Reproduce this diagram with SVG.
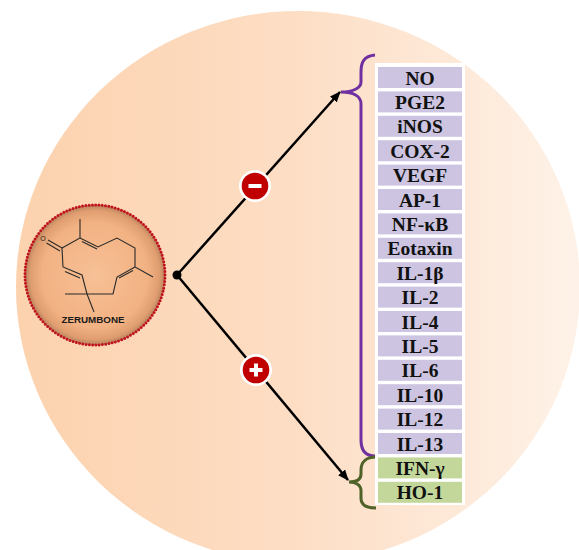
<svg xmlns="http://www.w3.org/2000/svg" width="579" height="550" viewBox="0 0 579 550">
<defs>
<linearGradient id="bg" x1="0" y1="0" x2="1" y2="0">
<stop offset="0" stop-color="#FCD2AE"/>
<stop offset="0.5" stop-color="#FDDEC5"/>
<stop offset="1" stop-color="#FEF2E8"/>
</linearGradient>
<radialGradient id="mol" cx="0.5" cy="0.5" r="0.5">
<stop offset="0" stop-color="#F7C096"/>
<stop offset="0.75" stop-color="#F2B283"/>
<stop offset="0.92" stop-color="#E09E70"/>
<stop offset="1" stop-color="#B7835E"/>
</radialGradient>
<marker id="ah" markerUnits="userSpaceOnUse" markerWidth="11" markerHeight="9" refX="10" refY="4.5" orient="auto">
<path d="M0,0 L11,4.5 L0,9 Z" fill="#000"/>
</marker>
<style>
.box-p{fill:#CCC4E0;}
.box-g{fill:#C4D79B;}
.lbl{font-family:"Liberation Serif","Times New Roman",serif;font-weight:bold;font-size:19.5px;fill:#111;text-anchor:middle;}
.bond{stroke:#2a2a2a;stroke-width:1.1;fill:none;}
.conn{stroke:#000;stroke-width:2.5;fill:none;}
</style>
</defs>
<ellipse id="background" cx="298" cy="287" rx="282" ry="276" fill="url(#bg)"/>

<g id="zerumbone">
<circle cx="95" cy="275" r="70" fill="url(#mol)" stroke="#C0141C" stroke-width="3" stroke-dasharray="0 3.3" stroke-linecap="round"/>
<g class="bond">
<path d="M62,248 L80,238 L80,219"/>
<path d="M80,238 L98,247 L117,238 L135,248 L135,267 L153,277"/>
<path d="M82,241.5 L97,249"/>
<path d="M135,267 L117,277 L113,294 L65,294"/>
<path d="M133,270.5 L119,278"/>
<path d="M87,294 L94,312"/>
<path d="M87,294 L82,275 L63,267 L62,248"/>
<path d="M80,278 L65,271.5"/>
<path d="M62,248 L48,240"/>
<path d="M60,251 L46.5,243"/>
</g>
<text x="43" y="241" font-family="Liberation Sans, Arial, sans-serif" font-size="7" fill="#222" text-anchor="middle">O</text>
<text x="93" y="323" font-family="Liberation Sans, Arial, sans-serif" font-size="9.8" font-weight="bold" fill="#1a1a1a" text-anchor="middle">ZERUMBONE</text>
</g>

<g id="connectors">
<line class="conn" x1="177" y1="275" x2="340" y2="92" marker-end="url(#ah)"/>
<line class="conn" x1="177" y1="275" x2="348" y2="480" marker-end="url(#ah)"/>
<circle cx="177" cy="275" r="4.5" fill="#000"/>
<path d="M375,55 C364,56 361,62 361,72 L361,82 C361,88 353,92 341,92 C353,92 361,96 361,104 L361,440 C361,450 365,456 375,456" fill="none" stroke="#7030A0" stroke-width="3"/>
<path d="M376,457 C366,457 361,462 361,470 L361,474 C361,480 356,482 349,482 C356,482 361,485 361,491 L361,498 C361,505 366,508 376,508" fill="none" stroke="#4F6228" stroke-width="3"/>
</g>

<g id="minus">
<circle cx="255" cy="186" r="16" fill="#fff"/>
<circle cx="255" cy="186" r="13.3" fill="#C00000"/>
<rect x="248.5" y="184" width="13" height="4" fill="#fff"/>
</g>
<g id="plus">
<circle cx="256" cy="370" r="16" fill="#fff"/>
<circle cx="256" cy="370" r="13.3" fill="#C00000"/>
<rect x="249.5" y="368" width="13" height="4" fill="#fff"/>
<rect x="254" y="363.5" width="4" height="13" fill="#fff"/>
</g>

<g id="list">
<rect x="375" y="63" width="90" height="442" fill="#fff"/>
<g id="n-NO"><rect class="box-p" x="378" y="67" width="84" height="21"/><text class="lbl" x="420" y="84.5">NO</text></g>
<g id="n-PGE2"><rect class="box-p" x="378" y="91.4" width="84" height="21"/><text class="lbl" x="420" y="108.9">PGE2</text></g>
<g id="n-iNOS"><rect class="box-p" x="378" y="115.8" width="84" height="21"/><text class="lbl" x="420" y="133.3">iNOS</text></g>
<g id="n-COX2"><rect class="box-p" x="378" y="140.2" width="84" height="21"/><text class="lbl" x="420" y="157.7">COX-2</text></g>
<g id="n-VEGF"><rect class="box-p" x="378" y="164.6" width="84" height="21"/><text class="lbl" x="420" y="182.1">VEGF</text></g>
<g id="n-AP1"><rect class="box-p" x="378" y="189" width="84" height="21"/><text class="lbl" x="420" y="206.5">AP-1</text></g>
<g id="n-NFkB"><rect class="box-p" x="378" y="213.4" width="84" height="21"/><text class="lbl" x="420" y="230.9">NF-κB</text></g>
<g id="n-Eotaxin"><rect class="box-p" x="378" y="237.8" width="84" height="21"/><text class="lbl" x="420" y="255.3">Eotaxin</text></g>
<g id="n-IL1b"><rect class="box-p" x="378" y="262.2" width="84" height="21"/><text class="lbl" x="420" y="279.7">IL-1β</text></g>
<g id="n-IL2"><rect class="box-p" x="378" y="286.6" width="84" height="21"/><text class="lbl" x="420" y="304.1">IL-2</text></g>
<g id="n-IL4"><rect class="box-p" x="378" y="311" width="84" height="21"/><text class="lbl" x="420" y="328.5">IL-4</text></g>
<g id="n-IL5"><rect class="box-p" x="378" y="335.4" width="84" height="21"/><text class="lbl" x="420" y="352.9">IL-5</text></g>
<g id="n-IL6"><rect class="box-p" x="378" y="359.8" width="84" height="21"/><text class="lbl" x="420" y="377.3">IL-6</text></g>
<g id="n-IL10"><rect class="box-p" x="378" y="384.2" width="84" height="21"/><text class="lbl" x="420" y="401.7">IL-10</text></g>
<g id="n-IL12"><rect class="box-p" x="378" y="408.6" width="84" height="21"/><text class="lbl" x="420" y="426.1">IL-12</text></g>
<g id="n-IL13"><rect class="box-p" x="378" y="433" width="84" height="21"/><text class="lbl" x="420" y="450.5">IL-13</text></g>
<g id="n-IFNg"><rect class="box-g" x="378" y="457.4" width="84" height="21"/><text class="lbl" x="420" y="474.9">IFN-γ</text></g>
<g id="n-HO1"><rect class="box-g" x="378" y="481.8" width="84" height="21"/><text class="lbl" x="420" y="499.3">HO-1</text></g>
</g>
</svg>
